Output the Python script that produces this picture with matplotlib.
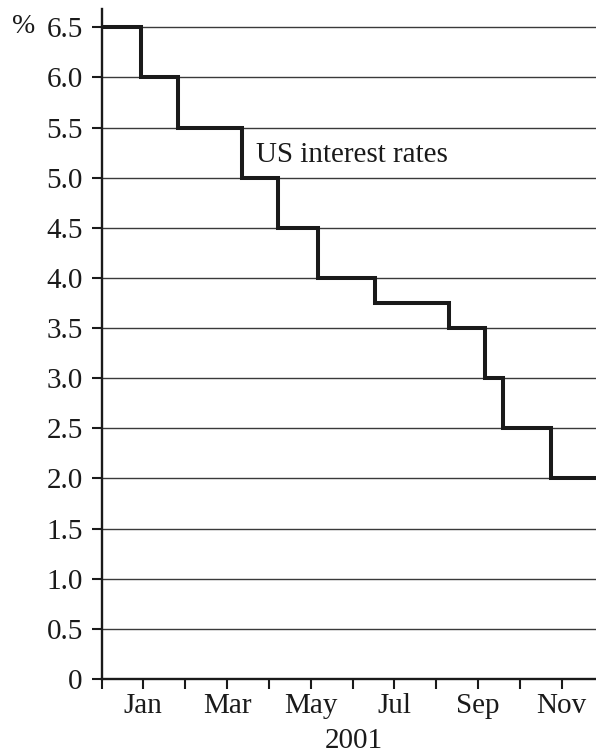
import matplotlib
matplotlib.use("Agg")
import matplotlib.pyplot as plt
import numpy as np

plt.rcParams['font.family'] = ['Liberation Serif', 'DejaVu Serif']

# Step change points (months from start of axis) and rate levels (%)
change_points = [0, 0.945, 1.82, 3.37, 4.23, 5.18, 6.53, 8.30, 9.16, 9.59, 10.75]
rates = [6.5, 6.0, 5.5, 5.0, 4.5, 4.0, 3.75, 3.5, 3.0, 2.5, 2.0]
x_end = 11.82

month_ticks = list(range(0, 12))
month_labels = ['', 'Jan', '', 'Mar', '', 'May', '', 'Jul', '', 'Sep', '', 'Nov']
y_ticks = [0, 0.5, 1.0, 1.5, 2.0, 2.5, 3.0, 3.5, 4.0, 4.5, 5.0, 5.5, 6.0, 6.5]
y_labels = ['0', '0.5', '1.0', '1.5', '2.0', '2.5', '3.0', '3.5', '4.0', '4.5',
            '5.0', '5.5', '6.0', '6.5']

FS = 21
TXT = '#1a1a1a'
fig = plt.figure(figsize=(5.96, 7.54), dpi=100)
ax = fig.add_axes([101.5 / 596, 75 / 754, 1 - 101.5 / 596, 669.7 / 754])

xs = change_points + [x_end]
ys = rates + [rates[-1]]
ax.step(xs, ys, where='post', color='#1a1a1a', lw=2.9, solid_joinstyle='miter', zorder=3)

ax.set_xlim(0, x_end)
ax.set_ylim(0, 6.68)

for y in y_ticks[1:]:
    ax.axhline(y, color='#3a3a3a', lw=1.0, zorder=1)

ax.set_yticks(y_ticks)
ax.set_yticklabels(y_labels, fontsize=FS, color=TXT)
ax.set_xticks(month_ticks)
ax.set_xticklabels(month_labels, fontsize=FS, color=TXT)
ax.tick_params(axis='both', direction='out', length=7, width=1.5, color='#1a1a1a')
ax.tick_params(axis='y', pad=6.5)
ax.tick_params(axis='x', pad=3)

for s in ['top', 'right']:
    ax.spines[s].set_visible(False)
for s in ['left', 'bottom']:
    ax.spines[s].set_linewidth(1.7)
    ax.spines[s].set_color('#1a1a1a')

ax.set_xlabel('2001', fontsize=FS, color=TXT, va='baseline')
ax.xaxis.set_label_coords((354 - 101.5) / 494.5, (679 - 748) / 669.7)

ax.text(3.70, 5.16, 'US interest rates', fontsize=FS, ha='left', va='baseline', color=TXT)
fig.text(12 / 596, (754 - 33.3) / 754, '%', fontsize=FS - 1, ha='left', va='baseline', color=TXT)

fig.savefig('out.png', dpi=100)
